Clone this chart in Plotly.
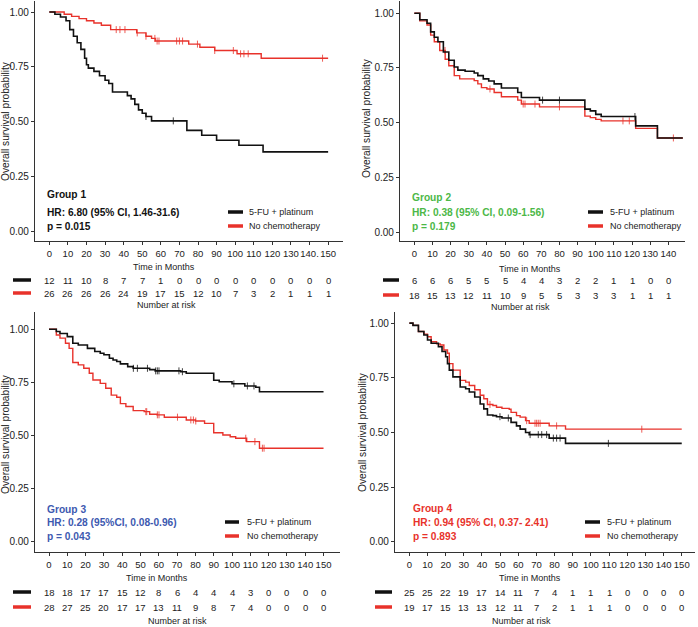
import numpy as np
import plotly.graph_objects as go

W, H = 698, 627
FONT = "Liberation Sans, Arial, Helvetica, sans-serif"
BLACK = "#111111"
RED = "#e8322b"
AX = "#333333"
TXT = "#222222"

# ---------------- data ----------------
months_150 = list(range(0, 151, 10))
months_140 = list(range(0, 141, 10))
ticks_g1 = ["0", "10", "20", "30", "40", "50", "60", "70", "80", "90", "100", "110", "120", "130", "140.", "150"]
ticks_150 = [str(m) for m in months_150]
ticks_140 = [str(m) for m in months_140]
y_ticks = [0, 0.25, 0.5, 0.75, 1.0]

# Group 1
g1_chemo_t = [0, 3, 6, 9, 11, 13, 15, 17, 19, 20, 21, 24, 27, 30, 32, 34, 42, 44, 46, 48, 50, 52, 55, 74, 82, 90, 102, 115]
g1_chemo_s = [1, 0.99, 0.977, 0.96, 0.92, 0.89, 0.86, 0.83, 0.79, 0.76, 0.745, 0.73, 0.71, 0.69, 0.675, 0.636, 0.62, 0.605, 0.58, 0.555, 0.54, 0.525, 0.505, 0.462, 0.44, 0.417, 0.394, 0.364]
g1_chemo_end = 150
g1_chemo_cens = [52, 66.7]
g1_none_t = [0, 8, 12, 16, 20, 24, 28, 33, 47, 52, 55, 57, 75, 81, 89, 101, 114]
g1_none_s = [1, 0.99, 0.98, 0.97, 0.96, 0.95, 0.94, 0.92, 0.905, 0.89, 0.88, 0.868, 0.854, 0.84, 0.825, 0.81, 0.79]
g1_none_end = 150
g1_none_cens = [36, 38, 40.7, 47.3, 52, 56.8, 58, 59, 68.5, 70, 71.7, 79.7, 89, 99, 102.9, 104.7, 107, 147]
g1_risk_chemo = [12, 11, 10, 8, 7, 7, 1, 0, 0, 0, 0, 0, 0, 0, 0, 0]
g1_risk_none = [26, 26, 26, 26, 24, 19, 17, 15, 12, 10, 7, 3, 2, 1, 1, 1]
g1_text = ["Group 1", "HR: 6.80 (95% CI, 1.46-31.6)", "p = 0.015"]

# Group 2
g2_chemo_t = [0, 3, 7, 9, 11, 13, 16, 19, 22, 24, 28, 33, 35, 38, 41, 44, 48, 57, 59, 69, 94, 97, 100, 103, 122, 134]
g2_chemo_s = [1, 0.97, 0.954, 0.915, 0.89, 0.87, 0.823, 0.785, 0.754, 0.74, 0.735, 0.727, 0.715, 0.7, 0.69, 0.677, 0.658, 0.638, 0.615, 0.603, 0.562, 0.554, 0.538, 0.528, 0.485, 0.43]
g2_chemo_end = 148
g2_chemo_cens = [70.7, 80, 121.6]
g2_none_t = [0, 3, 7, 9, 11, 14, 17, 19, 22, 25, 33, 35, 37, 40, 44, 48, 57, 59, 69, 94, 97, 100, 103, 122, 134]
g2_none_s = [1, 0.965, 0.946, 0.9, 0.87, 0.83, 0.79, 0.76, 0.715, 0.7, 0.692, 0.677, 0.66, 0.654, 0.638, 0.618, 0.603, 0.585, 0.572, 0.53, 0.523, 0.515, 0.508, 0.474, 0.43]
g2_none_end = 148
g2_none_cens = [16.9, 41.7, 60, 61, 66.5, 80, 115, 118.5, 142.8]
g2_risk_chemo = [6, 6, 6, 5, 5, 5, 4, 4, 3, 2, 2, 1, 1, 0, 0]
g2_risk_none = [18, 15, 13, 12, 11, 10, 9, 5, 5, 3, 3, 3, 1, 1, 1]
g2_text = ["Group 2", "HR: 0.38 (95% CI, 0.09-1.56)", "p = 0.179"]

# Group 3
g3_chemo_t = [0, 4, 6, 10, 13, 16, 21, 25, 28, 30, 33, 35, 37, 39, 43, 46, 55, 58, 72, 75, 90, 93, 100, 107, 113, 115]
g3_chemo_s = [1, 0.989, 0.98, 0.965, 0.934, 0.926, 0.91, 0.895, 0.887, 0.88, 0.863, 0.855, 0.848, 0.837, 0.824, 0.816, 0.81, 0.804, 0.8, 0.793, 0.76, 0.753, 0.743, 0.733, 0.727, 0.706]
g3_chemo_end = 150
g3_chemo_cens = [46.1, 48.3, 53.8, 58.3, 59.2, 60.1, 71, 72.9, 101, 108.4, 112]
g3_none_t = [0, 4, 6, 9, 11, 13, 16, 19, 22, 24, 28, 31, 34, 37, 39, 42, 46, 52, 55, 59, 63, 75, 80, 85, 90, 95, 99, 102, 108, 115]
g3_none_s = [1, 0.973, 0.958, 0.934, 0.91, 0.843, 0.832, 0.816, 0.793, 0.761, 0.745, 0.722, 0.69, 0.68, 0.65, 0.636, 0.617, 0.612, 0.6, 0.597, 0.586, 0.573, 0.568, 0.557, 0.513, 0.502, 0.494, 0.487, 0.471, 0.44]
g3_none_end = 150
g3_none_cens = [52.9, 53.4, 59.2, 60.1, 70.2, 77.5, 78.9, 80.2, 107.5, 112.5, 116.6, 117.5]
g3_risk_chemo = [18, 18, 17, 17, 15, 12, 8, 6, 4, 4, 4, 3, 0, 0, 0, 0]
g3_risk_none = [28, 27, 25, 20, 17, 17, 13, 11, 9, 8, 7, 4, 0, 0, 0, 0]
g3_text = ["Group 3", "HR: 0.28 (95%CI, 0.08-0.96)", "p = 0.043"]

# Group 4
g4_chemo_t = [0, 2, 5, 8, 10, 12, 16, 18, 20, 21, 22, 24, 28, 31, 33, 36, 39, 41, 43, 46, 48, 51, 56, 59, 61, 64, 66, 77, 86]
g4_chemo_s = [1, 0.99, 0.962, 0.946, 0.923, 0.908, 0.892, 0.87, 0.846, 0.815, 0.785, 0.754, 0.708, 0.7, 0.685, 0.662, 0.63, 0.608, 0.58, 0.577, 0.572, 0.566, 0.546, 0.53, 0.515, 0.5, 0.49, 0.474, 0.45]
g4_chemo_end = 150
g4_chemo_cens = [49.9, 54.5, 66.5, 71, 72.9, 75.6, 79.3, 81.1, 83, 109.6]
g4_none_t = [0, 2, 5, 8, 10, 12, 15, 17, 19, 21, 22, 24, 28, 31, 33, 36, 39, 41, 43, 46, 48, 51, 55, 56, 59, 61, 64, 66, 77, 86]
g4_none_s = [1, 0.99, 0.962, 0.95, 0.938, 0.915, 0.905, 0.9, 0.877, 0.862, 0.815, 0.785, 0.738, 0.73, 0.715, 0.695, 0.67, 0.654, 0.628, 0.623, 0.615, 0.61, 0.606, 0.592, 0.577, 0.57, 0.554, 0.542, 0.53, 0.515]
g4_none_end = 150
g4_none_cens = [44.4, 64.6, 69.2, 70.1, 71, 72, 81.1, 128]
g4_risk_chemo = [25, 25, 22, 19, 17, 14, 11, 7, 4, 1, 1, 1, 0, 0, 0, 0]
g4_risk_none = [19, 17, 15, 13, 13, 12, 11, 7, 2, 1, 1, 1, 0, 0, 0, 0]
g4_text = ["Group 4", "HR: 0.94 (95% CI, 0.37- 2.41)", "p = 0.893"]

legend_labels = ["5-FU + platinum", "No chemotherapy"]

# ---------------- layout config (pixels) ----------------
panels = [
    dict(data=(g1_chemo_t, g1_chemo_s, g1_chemo_end, g1_chemo_cens, g1_none_t, g1_none_s, g1_none_end, g1_none_cens),
         risk=(g1_risk_chemo, g1_risk_none), months=months_150, ticks=ticks_g1, text=g1_text, tcolor="#111111",
         xdom=(35, 343), xr=(-7.7, 158), ydom=(1, 241), yr=(-0.041, 1.05),
         ytitle_x=6, ytitle_y=121, time_x=164, time_y=267, risk_y=(280, 293), nar_x=166, nar_y=305,
         rsw=(13, 31), lsw=(228, 243), ltext=247, ly=(212, 226), gx=45, gy=(195, 212, 226)),
    dict(data=(g2_chemo_t, g2_chemo_s, g2_chemo_end, g2_chemo_cens, g2_none_t, g2_none_s, g2_none_end, g2_none_cens),
         risk=(g2_risk_chemo, g2_risk_none), months=months_140, ticks=ticks_140, text=g2_text, tcolor="#4cb847",
         xdom=(400, 685), xr=(-7.9, 149.2), ydom=(1, 241), yr=(-0.041, 1.056),
         ytitle_x=366, ytitle_y=118, time_x=530, time_y=269, risk_y=(280, 295), nar_x=520, nar_y=307,
         rsw=(383, 399), lsw=(588, 603), ltext=608, ly=(212, 226), gx=410, gy=(197, 212, 226)),
    dict(data=(g3_chemo_t, g3_chemo_s, g3_chemo_end, g3_chemo_cens, g3_none_t, g3_none_s, g3_none_end, g3_none_cens),
         risk=(g3_risk_chemo, g3_risk_none), months=months_150, ticks=ticks_150, text=g3_text, tcolor="#3d59b0",
         xdom=(35, 340), xr=(-7.65, 159), ydom=(312, 552), yr=(-0.0485, 1.081),
         ytitle_x=5, ytitle_y=434, time_x=157, time_y=578, risk_y=(592, 607), nar_x=177, nar_y=621,
         rsw=(13, 31), lsw=(225, 239), ltext=245, ly=(522, 536), gx=45, gy=(509, 522, 536)),
    dict(data=(g4_chemo_t, g4_chemo_s, g4_chemo_end, g4_chemo_cens, g4_none_t, g4_none_s, g4_none_end, g4_none_cens),
         risk=(g4_risk_chemo, g4_risk_none), months=months_150, ticks=ticks_150, text=g4_text, tcolor="#e8322b",
         xdom=(395, 695), xr=(-7.9, 157.3), ydom=(312, 552), yr=(-0.047, 1.051),
         ytitle_x=362, ytitle_y=432, time_x=530, time_y=578, risk_y=(592, 607), nar_x=521, nar_y=621,
         rsw=(375, 392), lsw=(585, 600), ltext=605, ly=(522, 536), gx=411, gy=(508, 522, 536)),
]


def px(x):
    return x / W


def py(y):
    return 1 - y / H


def step_at(t, s, c):
    idx = np.searchsorted(np.asarray(t), np.asarray(c), side="right") - 1
    return list(np.asarray(s)[idx])


fig = go.Figure()
annotations = []
shapes = []
layout = {}

for i, p in enumerate(panels):
    n = "" if i == 0 else str(i + 1)
    xa, ya = "x" + n, "y" + n
    ct, cs, cend, ccens, nt, ns, nend, ncens = p["data"]
    for t, s, end, cens, col, w in [(nt, ns, nend, ncens, RED, 1.4), (ct, cs, cend, ccens, BLACK, 1.6)]:
        fig.add_trace(go.Scatter(x=list(t) + [end], y=list(s) + [s[-1]], mode="lines", line=dict(color=col, width=w, shape="hv"),
                                 xaxis=xa, yaxis=ya, showlegend=False, hoverinfo="skip"))
        fig.add_trace(go.Scatter(x=cens, y=step_at(t, s, cens), mode="markers",
                                 marker=dict(symbol="line-ns", size=5, line=dict(color=col, width=0.8)),
                                 xaxis=xa, yaxis=ya, showlegend=False, hoverinfo="skip"))
    layout["xaxis" + n] = dict(domain=[px(p["xdom"][0]), px(p["xdom"][1])], range=list(p["xr"]), anchor=ya,
                               showline=True, linecolor=AX, linewidth=1.3, ticks="outside", ticklen=3, tickcolor=AX,
                               tickvals=p["months"], ticktext=p["ticks"], tickangle=0, showgrid=False, zeroline=False,
                               automargin=False, tickfont=dict(family=FONT, size=9.5, color=TXT))
    layout["yaxis" + n] = dict(domain=[py(p["ydom"][1]), py(p["ydom"][0])], range=list(p["yr"]), anchor=xa,
                               showline=True, linecolor=AX, linewidth=1.3, ticks="outside", ticklen=3, tickcolor=AX,
                               tickvals=y_ticks, tickformat=".2f", showgrid=False, zeroline=False,
                               automargin=False, tickfont=dict(family=FONT, size=10, color=TXT))
    # axis titles
    annotations.append(dict(text="Overall survival probability", x=px(p["ytitle_x"]), y=py(p["ytitle_y"]), xref="paper", yref="paper",
                            textangle=-90, showarrow=False, font=dict(family=FONT, size=10.2, color=TXT), xanchor="center", yanchor="middle"))
    annotations.append(dict(text="Time in Months", x=px(p["time_x"]), y=py(p["time_y"]), xref="paper", yref="paper",
                            showarrow=False, font=dict(family=FONT, size=9, color=TXT), xanchor="center", yanchor="middle"))
    annotations.append(dict(text="Number at risk", x=px(p["nar_x"]), y=py(p["nar_y"]), xref="paper", yref="paper",
                            showarrow=False, font=dict(family=FONT, size=9, color=TXT), xanchor="center", yanchor="middle"))
    # risk table
    for row, (vals, col) in enumerate(zip(p["risk"], [BLACK, RED])):
        yy = p["risk_y"][row]
        for m, v in zip(p["months"], vals):
            annotations.append(dict(text=str(v), x=m, y=py(yy), xref=xa, yref="paper", showarrow=False,
                                    font=dict(family=FONT, size=9.5, color=TXT), xanchor="center", yanchor="middle"))
        shapes.append(dict(type="line", xref="paper", yref="paper", x0=px(p["rsw"][0]), x1=px(p["rsw"][1]),
                           y0=py(yy), y1=py(yy), line=dict(color=col, width=3.5)))
        # legend
        ly = p["ly"][row]
        shapes.append(dict(type="line", xref="paper", yref="paper", x0=px(p["lsw"][0]), x1=px(p["lsw"][1]),
                           y0=py(ly), y1=py(ly), line=dict(color=col, width=3.5)))
        annotations.append(dict(text=legend_labels[row], x=px(p["ltext"]), y=py(ly), xref="paper", yref="paper", showarrow=False,
                                font=dict(family=FONT, size=9, color=TXT), xanchor="left", yanchor="middle"))
    # group text
    for k, (txt, gy) in enumerate(zip(p["text"], p["gy"])):
        annotations.append(dict(text="<b>" + txt + "</b>", x=px(p["gx"]), y=py(gy), xref="paper", yref="paper", showarrow=False,
                                font=dict(family=FONT, size=10.2, color=p["tcolor"]), xanchor="left", yanchor="middle"))

fig.update_layout(width=W, height=H, margin=dict(l=0, r=0, t=0, b=0, pad=0, autoexpand=False),
                  paper_bgcolor="white", plot_bgcolor="white",
                  annotations=annotations, shapes=shapes, showlegend=False, **layout)
fig.write_html("out.html", config={"displayModeBar": False},
               post_script="document.body.style.margin='0';document.body.style.padding='0';document.body.style.overflow='hidden';")
